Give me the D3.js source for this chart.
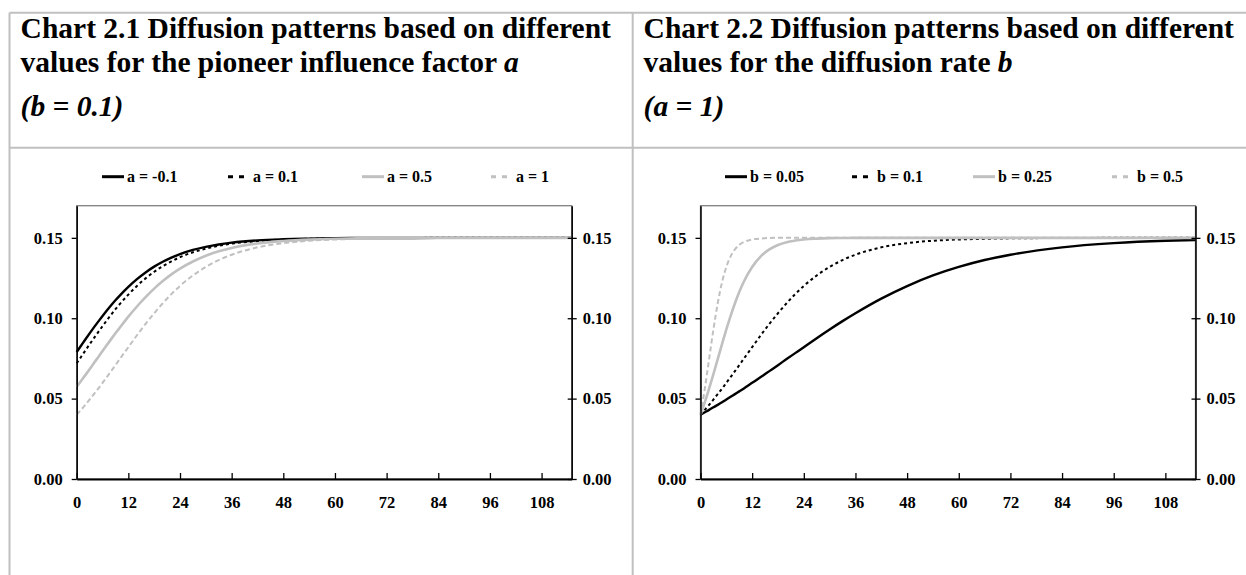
<!DOCTYPE html>
<html>
<head>
<meta charset="utf-8">
<script src="https://cdn.jsdelivr.net/npm/d3@7"></script>
<style>
  body { margin: 0; background: #fff; }
  svg text { font-family: "Liberation Serif", "Times New Roman", serif; font-weight: bold; fill: #000; }
</style>
</head>
<body>
<div id="chart"></div>
<script>
// months on the x axis (dense where the curves are steep)
var months = [0, 1, 2, 3, 4, 5, 6, 7, 8, 9, 10, 12, 14, 16, 18, 20, 22, 24, 27, 30, 33, 36, 42, 48, 54, 60, 66, 72, 84, 96, 108, 115];

// chart 2.1 : b = 0.1, different a
var aMinus01 = [0.0790, 0.0829, 0.0868, 0.0906, 0.0943, 0.0979, 0.1014, 0.1048, 0.1081, 0.1112, 0.1141, 0.1195, 0.1243, 0.1285, 0.1321, 0.1351, 0.1377, 0.1399, 0.1425, 0.1444, 0.1459, 0.1470, 0.1484, 0.1491, 0.1495, 0.1498, 0.1499, 0.1499, 0.1500, 0.1500, 0.1500, 0.1500];
var a01 = [0.0720, 0.0759, 0.0799, 0.0838, 0.0876, 0.0914, 0.0951, 0.0987, 0.1022, 0.1056, 0.1088, 0.1147, 0.1201, 0.1248, 0.1289, 0.1324, 0.1354, 0.1380, 0.1410, 0.1433, 0.1451, 0.1464, 0.1480, 0.1490, 0.1494, 0.1497, 0.1499, 0.1499, 0.1500, 0.1500, 0.1500, 0.1500];
var a05 = [0.0574, 0.0610, 0.0646, 0.0683, 0.0721, 0.0758, 0.0796, 0.0833, 0.0870, 0.0906, 0.0941, 0.1010, 0.1073, 0.1131, 0.1184, 0.1231, 0.1273, 0.1309, 0.1353, 0.1389, 0.1416, 0.1437, 0.1465, 0.1480, 0.1489, 0.1494, 0.1497, 0.1498, 0.1500, 0.1500, 0.1500, 0.1500];
var a1 = [0.0400, 0.0430, 0.0461, 0.0494, 0.0528, 0.0562, 0.0598, 0.0634, 0.0671, 0.0708, 0.0746, 0.0820, 0.0894, 0.0965, 0.1031, 0.1093, 0.1150, 0.1201, 0.1266, 0.1319, 0.1362, 0.1395, 0.1441, 0.1467, 0.1482, 0.1490, 0.1494, 0.1497, 0.1499, 0.1500, 0.1500, 0.1500];

// chart 2.2 : a = 1, different b
var b005 = [0.0400, 0.0415, 0.0430, 0.0446, 0.0461, 0.0477, 0.0494, 0.0511, 0.0528, 0.0545, 0.0562, 0.0598, 0.0634, 0.0671, 0.0708, 0.0746, 0.0783, 0.0820, 0.0876, 0.0930, 0.0982, 0.1031, 0.1122, 0.1200, 0.1266, 0.1319, 0.1362, 0.1395, 0.1441, 0.1467, 0.1482, 0.1487];
var b01 = [0.0400, 0.0430, 0.0461, 0.0494, 0.0528, 0.0562, 0.0598, 0.0634, 0.0671, 0.0708, 0.0746, 0.0820, 0.0894, 0.0965, 0.1031, 0.1093, 0.1150, 0.1201, 0.1266, 0.1319, 0.1362, 0.1395, 0.1441, 0.1467, 0.1482, 0.1490, 0.1494, 0.1497, 0.1499, 0.1500, 0.1500, 0.1500];
var b025 = [0.0400, 0.0477, 0.0562, 0.0652, 0.0746, 0.0839, 0.0930, 0.1015, 0.1093, 0.1163, 0.1224, 0.1319, 0.1385, 0.1428, 0.1456, 0.1473, 0.1483, 0.1490, 0.1495, 0.1498, 0.1499, 0.1500, 0.1500, 0.1500, 0.1500, 0.1500, 0.1500, 0.1500, 0.1500, 0.1500, 0.1500, 0.1500];
var b05 = [0.0400, 0.0562, 0.0746, 0.0930, 0.1093, 0.1224, 0.1319, 0.1385, 0.1428, 0.1456, 0.1473, 0.1490, 0.1496, 0.1499, 0.1500, 0.1500, 0.1500, 0.1500, 0.1500, 0.1500, 0.1500, 0.1500, 0.1500, 0.1500, 0.1500, 0.1500, 0.1500, 0.1500, 0.1500, 0.1500, 0.1500, 0.1500];

var yTicks = [0, 0.05, 0.10, 0.15];
var xTicks = [0, 12, 24, 36, 48, 60, 72, 84, 96, 108];

// line styles, in series order
var styles = [
  {color: "#000", width: 2.4, dash: null},
  {color: "#000", width: 2, dash: "3,3"},
  {color: "#c0c0c0", width: 2.6, dash: null},
  {color: "#c0c0c0", width: 2, dash: "5,3"}
];

var panels = [
  {
    left: 76.7, titleX: 20.6,
    title1: "Chart 2.1 Diffusion patterns based on different",
    title2: "values for the pioneer influence factor ", title2it: "a",
    title3: "(b = 0.1)",
    names: ["a = -0.1", "a = 0.1", "a = 0.5", "a = 1"],
    legendText: [127, 253, 387, 516],
    series: [aMinus01, a01, a05, a1]
  },
  {
    left: 700.5, titleX: 643.6,
    title1: "Chart 2.2 Diffusion patterns based on different",
    title2: "values for the diffusion rate ", title2it: "b",
    title3: "(a = 1)",
    names: ["b = 0.05", "b = 0.1", "b = 0.25", "b = 0.5"],
    legendText: [750, 877, 998, 1137],
    series: [b005, b01, b025, b05]
  }
];

var widthPlot = 495,
    heightPlot = 273.3,
    topPlot = 205.7;

var svg = d3.select("#chart")
  .append("svg")
    .attr("width", 1246)
    .attr("height", 575);

// grey frame lines
var frame = [
  [9.5, 12.7, 1246, 12.7],
  [9.5, 147.7, 1246, 147.7],
  [9.5, 12.7, 9.5, 575],
  [632.7, 12.7, 632.7, 575]
];
svg.selectAll("line.frame")
  .data(frame)
  .enter()
  .append("line")
    .attr("class", "frame")
    .attr("x1", function(d) { return d[0]; })
    .attr("y1", function(d) { return d[1]; })
    .attr("x2", function(d) { return d[2]; })
    .attr("y2", function(d) { return d[3]; })
    .attr("stroke", "#c0c0c0")
    .attr("stroke-width", 2);

var x = d3.scaleLinear().domain([0, 115]).range([0, widthPlot]);
var y = d3.scaleLinear().domain([0, 0.17]).range([heightPlot, 0]);

var line = d3.line()
  .x(function(d) { return x(d[0]); })
  .y(function(d) { return y(d[1]); })
  .curve(d3.curveMonotoneX);

panels.forEach(function(p) {

  // titles
  svg.append("text")
    .attr("x", p.titleX).attr("y", 38.3)
    .style("font-size", "29.5px")
    .text(p.title1);
  var t2 = svg.append("text")
    .attr("x", p.titleX).attr("y", 71.7)
    .style("font-size", "29.5px")
    .text(p.title2);
  t2.append("tspan").style("font-style", "italic").text(p.title2it);
  svg.append("text")
    .attr("x", p.titleX).attr("y", 116)
    .style("font-size", "29.5px")
    .style("font-style", "italic")
    .text(p.title3);

  // legend
  p.names.forEach(function(name, i) {
    var st = styles[i];
    var tx = p.legendText[i];
    svg.append("line")
      .attr("x1", tx - 25).attr("x2", tx - 3)
      .attr("y1", 176.7).attr("y2", 176.7)
      .attr("stroke", st.color)
      .attr("stroke-width", 3)
      .attr("stroke-dasharray", st.dash ? "5,6" : null);
    svg.append("text")
      .attr("x", tx).attr("y", 176.7)
      .attr("dy", "0.35em")
      .style("font-size", "16px")
      .text(name);
  });

  var g = svg.append("g")
    .attr("transform", "translate(" + p.left + "," + topPlot + ")");

  // plot area border (top edge shows, the axes cover the rest)
  g.append("rect")
    .attr("width", widthPlot)
    .attr("height", heightPlot)
    .attr("fill", "none")
    .attr("stroke", "#808080")
    .attr("stroke-width", 1.3);

  // curves
  p.series.forEach(function(vals, i) {
    var st = styles[i];
    g.append("path")
      .datum(months.map(function(m, j) { return [m, vals[j]]; }))
      .attr("fill", "none")
      .attr("stroke", st.color)
      .attr("stroke-width", st.width)
      .attr("stroke-dasharray", st.dash)
      .attr("d", line);
  });

  // left axis
  var yl = g.append("g")
    .call(d3.axisLeft(y).tickValues(yTicks).tickFormat(d3.format(".2f")).tickSize(5).tickSizeOuter(0).tickPadding(9));
  // right axis, ticks cross the line
  var yr = g.append("g")
    .attr("transform", "translate(" + widthPlot + ",0)")
    .call(d3.axisRight(y).tickValues(yTicks).tickFormat(d3.format(".2f")).tickSize(5).tickSizeOuter(0).tickPadding(6));
  yr.selectAll(".tick line").attr("x1", -4);
  // bottom axis, ticks point inside
  var xa = g.append("g")
    .attr("transform", "translate(0," + heightPlot + ")")
    .call(d3.axisBottom(x).tickValues(xTicks).tickSize(-6).tickSizeOuter(0).tickPadding(17));

  [yl, yr, xa].forEach(function(a) {
    a.selectAll("text").style("font-size", "16.5px").style("font-family", "Liberation Serif").style("font-weight", "bold");
    a.selectAll("line").attr("stroke", "#000").attr("stroke-width", 1.3);
    a.select(".domain").attr("stroke", "#000").attr("stroke-width", 1.5);
  });
  xa.select(".domain").attr("stroke-width", 2.2);
});
</script>
</body>
</html>
